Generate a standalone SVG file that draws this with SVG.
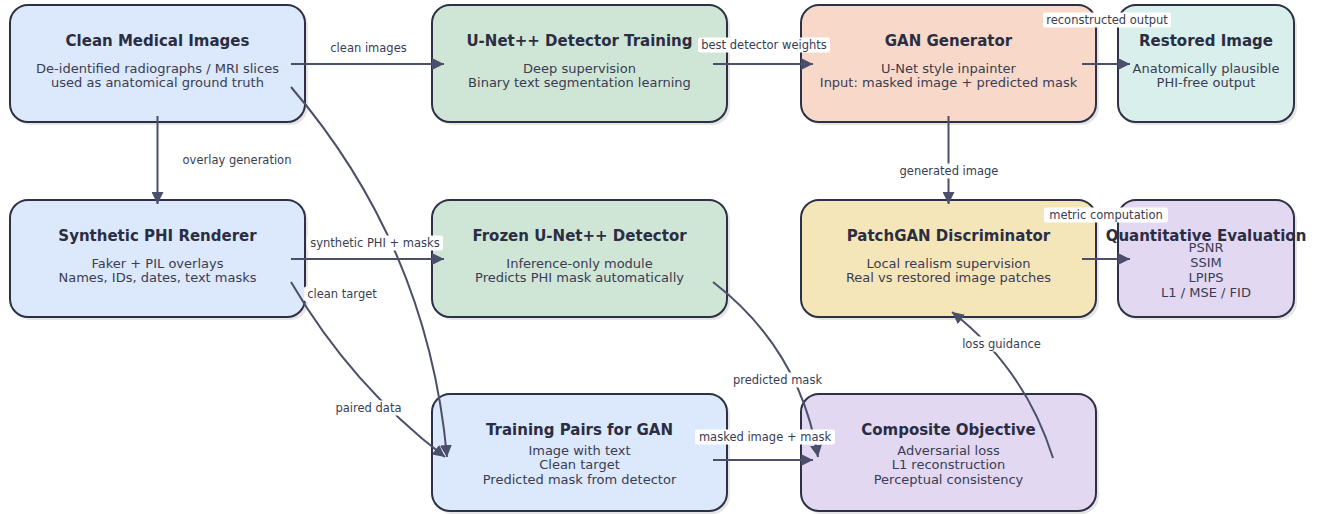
<svg xmlns="http://www.w3.org/2000/svg" width="1320" height="514" viewBox="0 0 1320 514">
<style>
.box{stroke:#2e3145;stroke-width:2}
.shadow{fill:#000;opacity:0.10}
.title{font-family:"DejaVu Sans",sans-serif;font-weight:bold;font-size:15px;fill:#2b2d42;text-anchor:middle}
.sub{font-family:"DejaVu Sans",sans-serif;font-size:13px;fill:#3a3c52;text-anchor:middle}
.edge{fill:none;stroke:#4b4f6b;stroke-width:2}
.lbl{font-family:"DejaVu Sans",sans-serif;font-size:11.5px;fill:#3a3c52;text-anchor:middle}
.lbg{fill:#fff}
.blue{fill:#dce9fc}.green{fill:#cfe6d6}.peach{fill:#f8d9c9}.teal{fill:#d8efeb}.yellow{fill:#f5e6b9}.lav{fill:#e2d8f2}
</style>
<defs>
<marker id="ah" viewBox="0 0 12 12" markerWidth="12" markerHeight="12" refX="12" refY="6" orient="auto" markerUnits="userSpaceOnUse">
<path d="M0,0 L12,6 L0,12 z" fill="#4b4f6b"/>
</marker>
</defs>
<rect width="1320" height="514" fill="#fff"/>

<g id="clean-medical-images">
<rect class="shadow" x="13" y="8" width="295" height="117" rx="18"/>
<rect class="box blue" x="10" y="5" width="295" height="117" rx="18"/>
<text class="title" x="157.5" y="46">Clean Medical Images</text>
<text class="sub" x="157.5" y="72.5">De-identified radiographs / MRI slices</text>
<text class="sub" x="157.5" y="86.5">used as anatomical ground truth</text>
</g>
<g id="unet-detector-training">
<rect class="shadow" x="435" y="8" width="295" height="117" rx="18"/>
<rect class="box green" x="432" y="5" width="295" height="117" rx="18"/>
<text class="title" x="579.5" y="46">U-Net++ Detector Training</text>
<text class="sub" x="579.5" y="72.5">Deep supervision</text>
<text class="sub" x="579.5" y="86.5">Binary text segmentation learning</text>
</g>
<g id="gan-generator">
<rect class="shadow" x="804" y="8" width="295" height="117" rx="18"/>
<rect class="box peach" x="801" y="5" width="295" height="117" rx="18"/>
<text class="title" x="948.5" y="46">GAN Generator</text>
<text class="sub" x="948.5" y="72.5">U-Net style inpainter</text>
<text class="sub" x="948.5" y="86.5">Input: masked image + predicted mask</text>
</g>
<g id="restored-image">
<rect class="shadow" x="1121" y="8" width="176" height="117" rx="18"/>
<rect class="box teal" x="1118" y="5" width="176" height="117" rx="18"/>
<text class="title" x="1206" y="46">Restored Image</text>
<text class="sub" x="1206" y="72.5">Anatomically plausible</text>
<text class="sub" x="1206" y="86.5">PHI-free output</text>
</g>

<g id="synthetic-phi-renderer">
<rect class="shadow" x="13" y="203" width="295" height="117" rx="18"/>
<rect class="box blue" x="10" y="200" width="295" height="117" rx="18"/>
<text class="title" x="157.5" y="240.5">Synthetic PHI Renderer</text>
<text class="sub" x="157.5" y="267.5">Faker + PIL overlays</text>
<text class="sub" x="157.5" y="281.5">Names, IDs, dates, text masks</text>
</g>
<g id="frozen-unet-detector">
<rect class="shadow" x="435" y="203" width="295" height="117" rx="18"/>
<rect class="box green" x="432" y="200" width="295" height="117" rx="18"/>
<text class="title" x="579.5" y="240.5">Frozen U-Net++ Detector</text>
<text class="sub" x="579.5" y="267.5">Inference-only module</text>
<text class="sub" x="579.5" y="281.5">Predicts PHI mask automatically</text>
</g>
<g id="patchgan-discriminator">
<rect class="shadow" x="804" y="203" width="295" height="117" rx="18"/>
<rect class="box yellow" x="801" y="200" width="295" height="117" rx="18"/>
<text class="title" x="948.5" y="240.5">PatchGAN Discriminator</text>
<text class="sub" x="948.5" y="267.5">Local realism supervision</text>
<text class="sub" x="948.5" y="281.5">Real vs restored image patches</text>
</g>
<g id="quantitative-evaluation">
<rect class="shadow" x="1121" y="203" width="176" height="117" rx="18"/>
<rect class="box lav" x="1118" y="200" width="176" height="117" rx="18"/>
<text class="title" x="1206" y="240.5">Quantitative Evaluation</text>
<text class="sub" x="1206" y="252">PSNR</text>
<text class="sub" x="1206" y="266.5">SSIM</text>
<text class="sub" x="1206" y="281.5">LPIPS</text>
<text class="sub" x="1206" y="296.5">L1 / MSE / FID</text>
</g>

<g id="training-pairs-for-gan">
<rect class="shadow" x="435" y="397" width="295" height="117" rx="18"/>
<rect class="box blue" x="432" y="394" width="295" height="117" rx="18"/>
<text class="title" x="579.5" y="435">Training Pairs for GAN</text>
<text class="sub" x="579.5" y="454.5">Image with text</text>
<text class="sub" x="579.5" y="469">Clean target</text>
<text class="sub" x="579.5" y="483.5">Predicted mask from detector</text>
</g>
<g id="composite-objective">
<rect class="shadow" x="804" y="397" width="295" height="117" rx="18"/>
<rect class="box lav" x="801" y="394" width="295" height="117" rx="18"/>
<text class="title" x="948.5" y="435">Composite Objective</text>
<text class="sub" x="948.5" y="454.5">Adversarial loss</text>
<text class="sub" x="948.5" y="469">L1 reconstruction</text>
<text class="sub" x="948.5" y="483.5">Perceptual consistency</text>
</g>

<g id="connectors">
<path class="edge" marker-end="url(#ah)" d="M291,64 L444,64"/>
<path class="edge" marker-end="url(#ah)" d="M713,64 L813,64"/>
<path class="edge" marker-end="url(#ah)" d="M1082,64 L1130,64"/>
<path class="edge" marker-end="url(#ah)" d="M157.5,116 L157.5,204"/>
<path class="edge" marker-end="url(#ah)" d="M948.5,116 L948.5,204"/>
<path class="edge" marker-end="url(#ah)" d="M291,259 L444,259"/>
<path class="edge" marker-end="url(#ah)" d="M1082,259 L1130,259"/>
<path class="edge" marker-end="url(#ah)" d="M291,87 Q428,247 447,457"/>
<path class="edge" marker-end="url(#ah)" d="M291,282 Q351,385 445,457"/>
<path class="edge" marker-end="url(#ah)" d="M713,282 Q800,349 818,457"/>
<path class="edge" marker-end="url(#ah)" d="M713,460 L813,460"/>
<path class="edge" marker-end="url(#ah)" d="M1053,458 Q1025,369 952,312"/>
</g>

<g id="edge-labels">
<rect class="lbg" x="328" y="41" width="81" height="15" rx="2"/>
<text class="lbl" x="368.5" y="52">clean images</text>
<rect class="lbg" x="698" y="37.5" width="132" height="15" rx="2"/>
<text class="lbl" x="764" y="49">best detector weights</text>
<rect class="lbg" x="1043" y="12.5" width="128" height="15" rx="2"/>
<text class="lbl" x="1107" y="24">reconstructed output</text>
<rect class="lbg" x="179" y="152.5" width="116" height="15" rx="2"/>
<text class="lbl" x="237" y="164">overlay generation</text>
<rect class="lbg" x="896" y="163.5" width="106" height="15" rx="2"/>
<text class="lbl" x="949" y="175">generated image</text>
<rect class="lbg" x="307" y="235.5" width="136" height="15" rx="2"/>
<text class="lbl" x="375" y="247">synthetic PHI + masks</text>
<rect class="lbg" x="1044" y="207.5" width="124" height="15" rx="2"/>
<text class="lbl" x="1106" y="219">metric computation</text>
<rect class="lbg" x="304" y="286.5" width="76" height="15" rx="2"/>
<text class="lbl" x="342" y="298">clean target</text>
<rect class="lbg" x="332" y="400.5" width="73" height="15" rx="2"/>
<text class="lbl" x="368.5" y="412">paired data</text>
<rect class="lbg" x="730" y="372.5" width="95" height="15" rx="2"/>
<text class="lbl" x="777.5" y="384">predicted mask</text>
<rect class="lbg" x="695" y="429.5" width="140" height="15" rx="2"/>
<text class="lbl" x="765" y="441">masked image + mask</text>
<rect class="lbg" x="959" y="336.5" width="85" height="15" rx="2"/>
<text class="lbl" x="1001.5" y="348">loss guidance</text>
</g>
</svg>
